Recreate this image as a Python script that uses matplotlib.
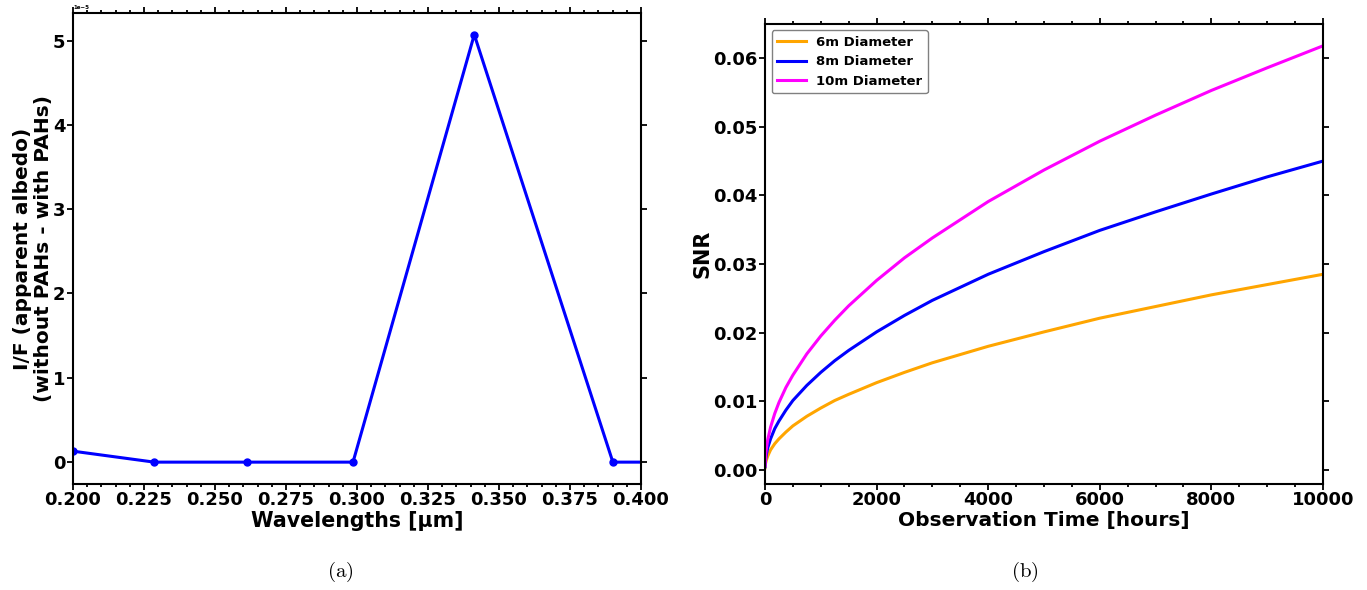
import numpy as np
import matplotlib
matplotlib.use("Agg")
import matplotlib.pyplot as plt
from matplotlib.ticker import MultipleLocator

# (a) I/F difference vs wavelength (units of 1e-5)
wavelengths = [0.2000, 0.2286, 0.2613, 0.2986, 0.3413, 0.3901, 0.4459]
if_diff = [0.13e-5, 0.0, 0.0, 0.0, 5.07e-5, 0.0, 0.0]

# (b) SNR vs observation time
obs_hours = [1, 10, 25, 50, 100, 175, 250, 375, 500, 750, 1000, 1250, 1500,
             2000, 2500, 3000, 4000, 5000, 6000, 7000, 8000, 9000, 10000]
snr_6m = [0.0003, 0.0009, 0.0014, 0.0020, 0.0029, 0.0038, 0.0045, 0.0055,
          0.0064, 0.0078, 0.0090, 0.0101, 0.0110, 0.0127, 0.0142, 0.0156,
          0.0180, 0.0201, 0.0221, 0.0238, 0.0255, 0.0270, 0.0285]
snr_8m = [0.00045, 0.0014, 0.00225, 0.0032, 0.0045, 0.0060, 0.0071, 0.0087,
          0.0101, 0.0123, 0.0142, 0.0159, 0.0174, 0.0201, 0.0225, 0.0247,
          0.0285, 0.0318, 0.0349, 0.0376, 0.0402, 0.0427, 0.0450]
snr_10m = [0.0006, 0.0020, 0.0031, 0.0044, 0.0062, 0.0082, 0.0098, 0.0120,
           0.0138, 0.0169, 0.0195, 0.0218, 0.0239, 0.0276, 0.0309, 0.0338,
           0.0391, 0.0437, 0.0479, 0.0517, 0.0553, 0.0586, 0.0618]
labels = ["6m Diameter", "8m Diameter", "10m Diameter"]
colors = ["orange", "blue", "magenta"]

plt.rcParams["font.family"] = "DejaVu Sans"
plt.rcParams["font.weight"] = "bold"
plt.rcParams["axes.labelweight"] = "bold"
plt.rcParams["mathtext.fontset"] = "cm"

fig = plt.figure(figsize=(13.67, 5.90), dpi=100)
ax1 = fig.add_axes([0.0534, 0.1805, 0.4155, 0.7970])
ax2 = fig.add_axes([0.5596, 0.1805, 0.4082, 0.7790])


def style(ax):
    ax.tick_params(which="both", direction="out", top=True, right=True,
                   width=1.3, labelsize=13, pad=1)
    ax.tick_params(which="major", length=4.5)
    ax.tick_params(which="minor", length=2.5)
    for s in ax.spines.values():
        s.set_linewidth(1.5)


ax1.plot(wavelengths, if_diff, "-o", color="blue", lw=2.2, ms=5)
ax1.set_xlim(0.2, 0.4)
ax1.xaxis.set_major_locator(MultipleLocator(0.025))
ax1.xaxis.set_minor_locator(MultipleLocator(0.005))
ax1.xaxis.set_major_formatter(plt.FormatStrFormatter("%.3f"))
ax1.set_xlabel("Wavelengths [µm]", fontsize=14.8, labelpad=1)
ax1.set_ylabel("I/F (apparent albedo)\n(without PAHs - with PAHs)",
               fontsize=14.5, labelpad=0, linespacing=1.1)
style(ax1)
ax1.yaxis.get_offset_text().set_fontsize(4)

for y, lab, c in zip([snr_6m, snr_8m, snr_10m], labels, colors):
    ax2.plot(obs_hours, y, color=c, lw=2.2, label=lab)
ax2.set_xlim(0, 10000)
ax2.set_ylim(-0.002, 0.065)
ax2.xaxis.set_major_locator(MultipleLocator(2000))
ax2.xaxis.set_minor_locator(MultipleLocator(500))
ax2.yaxis.set_major_locator(MultipleLocator(0.01))
ax2.yaxis.set_major_formatter(plt.FormatStrFormatter("%.2f"))
ax2.set_xlabel("Observation Time [hours]", fontsize=14.5, labelpad=1)
ax2.set_ylabel("SNR", fontsize=15, labelpad=0)
style(ax2)
ax2.legend(loc="upper left", fontsize=9.5, handlelength=2.2, framealpha=1,
           edgecolor="gray")

fig.text(0.249, 0.022, r"$\mathrm{(a)}$", ha="center", fontsize=15)
fig.text(0.750, 0.022, r"$\mathrm{(b)}$", ha="center", fontsize=15)

fig.savefig("out.png", dpi=100)
